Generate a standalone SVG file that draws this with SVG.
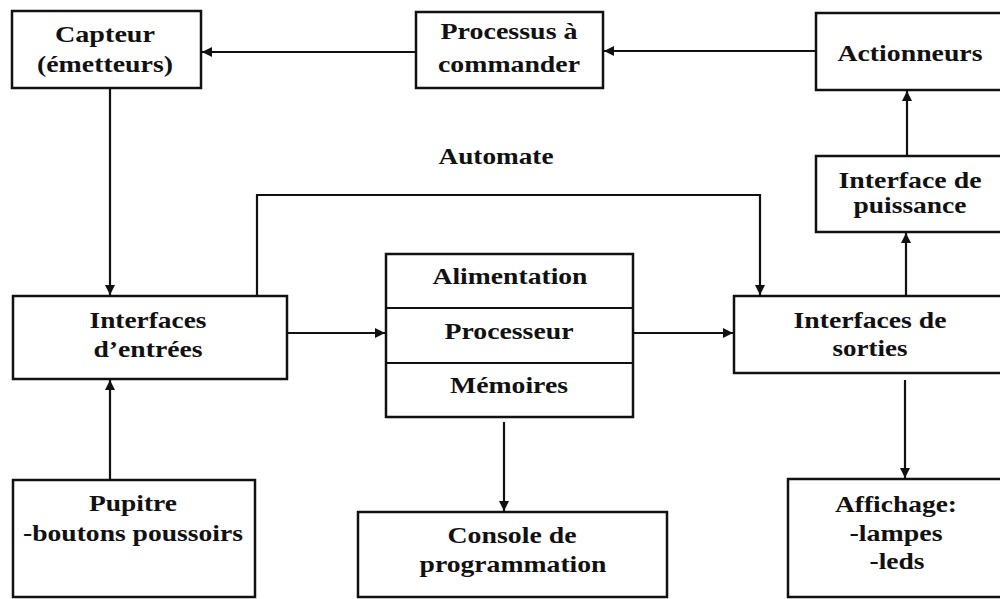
<svg xmlns="http://www.w3.org/2000/svg" width="1000" height="599" viewBox="0 0 1000 599">
<style>
.box{fill:#fff;stroke:#111;stroke-width:2.5}
.div{stroke:#111;stroke-width:2.2}
.t{font-family:"Liberation Serif","Times New Roman",serif;font-weight:bold;font-size:23px;fill:#111;text-anchor:middle}
.c{fill:none;stroke:#111;stroke-width:2.2}
</style>
<defs>
<marker id="ah" viewBox="0 0 10 10" refX="10" refY="5" markerWidth="4.6" markerHeight="4.6" orient="auto" markerUnits="strokeWidth">
<path d="M0,0 L10,5 L0,10 z" fill="#111"/>
</marker>
</defs>
<rect width="1000" height="599" fill="#fff"/>
<g id="connectors">
<line class="c" x1="416" y1="52" x2="202" y2="52" marker-end="url(#ah)"/>
<line class="c" x1="816" y1="51" x2="604" y2="51" marker-end="url(#ah)"/>
<line class="c" x1="110" y1="88" x2="110" y2="295" marker-end="url(#ah)"/>
<line class="c" x1="110" y1="480" x2="110" y2="380" marker-end="url(#ah)"/>
<line class="c" x1="287" y1="333" x2="385" y2="333" marker-end="url(#ah)"/>
<path class="c" d="M257,296 L257,195 L760,195 L760,295" marker-end="url(#ah)"/>
<line class="c" x1="633" y1="333" x2="733" y2="333" marker-end="url(#ah)"/>
<line class="c" x1="906" y1="296" x2="906" y2="233" marker-end="url(#ah)"/>
<line class="c" x1="907" y1="156" x2="907" y2="91" marker-end="url(#ah)"/>
<line class="c" x1="504" y1="422" x2="504" y2="511" marker-end="url(#ah)"/>
<line class="c" x1="905" y1="380" x2="905" y2="478" marker-end="url(#ah)"/>
</g>
<g id="capteur">
<rect class="box" x="12" y="11" width="189" height="77"/>
<text class="t" x="105" y="42" textLength="100" lengthAdjust="spacingAndGlyphs">Capteur</text>
<text class="t" x="105" y="72" textLength="136" lengthAdjust="spacingAndGlyphs">(émetteurs)</text>
</g>
<g id="processus">
<rect class="box" x="416" y="12" width="187" height="76"/>
<text class="t" x="509" y="39" textLength="137" lengthAdjust="spacingAndGlyphs">Processus à</text>
<text class="t" x="509" y="72" textLength="142" lengthAdjust="spacingAndGlyphs">commander</text>
</g>
<g id="actionneurs">
<rect class="box" x="816" y="13" width="200" height="77"/>
<text class="t" x="910" y="61" textLength="145" lengthAdjust="spacingAndGlyphs">Actionneurs</text>
</g>
<g id="automate">
<text class="t" x="496" y="164" textLength="115" lengthAdjust="spacingAndGlyphs">Automate</text>
</g>
<g id="puissance">
<rect class="box" x="816" y="156" width="200" height="76"/>
<text class="t" x="910" y="188" textLength="143" lengthAdjust="spacingAndGlyphs">Interface de</text>
<text class="t" x="910" y="213" textLength="113" lengthAdjust="spacingAndGlyphs">puissance</text>
</g>
<g id="entrees">
<rect class="box" x="13" y="296" width="274" height="83"/>
<text class="t" x="148" y="328" textLength="117" lengthAdjust="spacingAndGlyphs">Interfaces</text>
<text class="t" x="148" y="357" textLength="109" lengthAdjust="spacingAndGlyphs">d’entrées</text>
</g>
<g id="automate-cpu">
<rect class="box" x="386" y="254" width="247" height="163"/>
<line class="div" x1="386" y1="308" x2="633" y2="308"/>
<line class="div" x1="386" y1="363" x2="633" y2="363"/>
<text class="t" x="510" y="284" textLength="155" lengthAdjust="spacingAndGlyphs">Alimentation</text>
<text class="t" x="509" y="339" textLength="129" lengthAdjust="spacingAndGlyphs">Processeur</text>
<text class="t" x="509" y="393" textLength="118" lengthAdjust="spacingAndGlyphs">Mémoires</text>
</g>
<g id="sorties">
<rect class="box" x="734" y="296" width="282" height="77"/>
<text class="t" x="870" y="328" textLength="153" lengthAdjust="spacingAndGlyphs">Interfaces de</text>
<text class="t" x="870" y="356" textLength="75" lengthAdjust="spacingAndGlyphs">sorties</text>
</g>
<g id="pupitre">
<rect class="box" x="13" y="480" width="242" height="117"/>
<text class="t" x="133" y="511" textLength="88" lengthAdjust="spacingAndGlyphs">Pupitre</text>
<text class="t" x="133" y="541" textLength="220" lengthAdjust="spacingAndGlyphs">-boutons poussoirs</text>
</g>
<g id="console">
<rect class="box" x="358" y="512" width="309" height="85"/>
<text class="t" x="512" y="543" textLength="129" lengthAdjust="spacingAndGlyphs">Console de</text>
<text class="t" x="513" y="572" textLength="187" lengthAdjust="spacingAndGlyphs">programmation</text>
</g>
<g id="affichage">
<rect class="box" x="788" y="479" width="228" height="118"/>
<text class="t" x="896" y="512" textLength="122" lengthAdjust="spacingAndGlyphs">Affichage:</text>
<text class="t" x="896" y="541" textLength="93" lengthAdjust="spacingAndGlyphs">-lampes</text>
<text class="t" x="897" y="569" textLength="55" lengthAdjust="spacingAndGlyphs">-leds</text>
</g>
</svg>
